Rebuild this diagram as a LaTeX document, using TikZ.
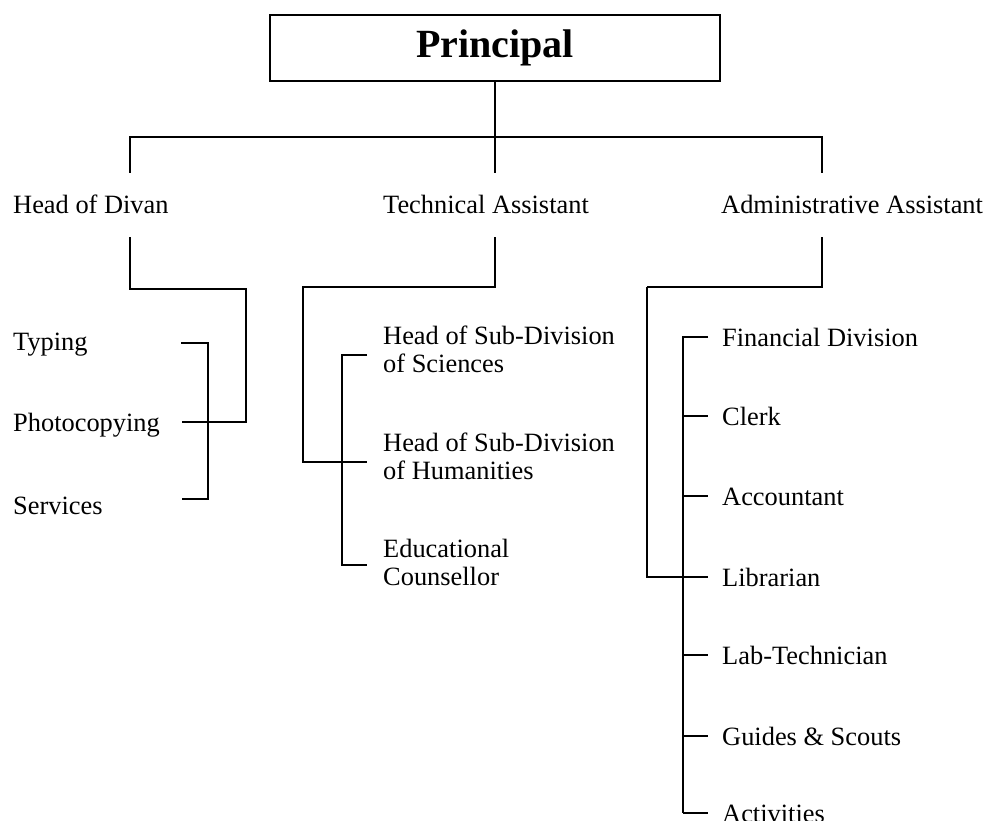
\documentclass[tikz,border=0pt]{standalone}
\usepackage{fontspec}
\setmainfont{Liberation Serif}
\usetikzlibrary{calc}
\begin{document}
\begin{tikzpicture}[x=1pt,y=-1pt,
  wire/.style={line width=1.5pt},
  heavy/.style={line width=2.7pt},
  chief/.style={draw, line width=2.2pt, minimum width=450pt, minimum height=66pt,
    inner sep=0pt, font=\fontsize{40}{44}\selectfont\bfseries},
  deputy/.style={inner xsep=0pt, inner ysep=23pt, text height=18pt, text depth=0pt,
    anchor=west, font=\fontsize{26.4}{28}\selectfont},
  leaf/.style={inner sep=0pt, text height=18pt, text depth=0pt, anchor=west,
    font=\fontsize{26.4}{28}\selectfont},
  twoline/.style={inner sep=0pt, align=left, anchor=west,
    font=\fontsize{26.4}{28}\selectfont},
]
\useasboundingbox (0,0) rectangle (986,821);

% top of the chart
\node[chief] (prin) at (495,48) {Principal};

% second level
\node[deputy] (hod) at (13,205) {Head of Divan};
\node[deputy] (ta)  at (383,205) {Technical Assistant};
\node[deputy] (aa)  at (721,205) {Administrative Assistant};

% left group
\node[leaf] (typ) at (13,341) {Typing};
\node[leaf] (pho) at (13,422) {Photocopying};
\node[leaf] (srv) at (13,505) {Services};

% middle group
\node[twoline] (sci) at (383,349) {Head of Sub-Division\\of Sciences};
\node[twoline] (hum) at (383,456) {Head of Sub-Division\\of Humanities};
\node[twoline] (edu) at (383,562) {Educational\\Counsellor};

% right group
\node[leaf] (fin) at (722,337) {Financial Division};
\node[leaf] (clk) at (722,416) {Clerk};
\node[leaf] (acc) at (722,496) {Accountant};
\node[leaf] (lib) at (722,577) {Librarian};
\node[leaf] (lab) at (722,655) {Lab-Technician};
\node[leaf] (gui) at (722,736) {Guides \& Scouts};
\node[leaf] (act) at (722,813) {Activities};

% junction points
\coordinate (barL) at (130,137);
\coordinate (barR) at (822,137);
\coordinate (hodK) at (130,289);
\coordinate (hodJ) at (246,289);
\coordinate (brk)  at (208,343);
\coordinate (typT) at (181,343);
\coordinate (phoT) at (182,422);
\coordinate (srvT) at (182,499);
\coordinate (taK)  at (495,287);
\coordinate (taL)  at (303,287);
\coordinate (mcol) at (342,355);
\coordinate (sciT) at (367,355);
\coordinate (humT) at (367,462);
\coordinate (eduT) at (367,565);
\coordinate (aaK)  at (822,287);
\coordinate (aaL)  at (647,287);
\coordinate (rcol) at (683,337);

% principal to the three assistants
\draw[wire] (prin.south) -- (prin.south |- ta.north);
\draw[wire] (barL |- hod.north) -- (barL) -- (barR) -- (barR |- aa.north);

% head of divan branch
\draw[wire] (hodK |- hod.south) -- (hodK) -- (hodJ) -- (hodJ |- phoT) -- (phoT);
\draw[wire] (typT) -- (brk) -- (brk |- srvT) -- (srvT);
\draw[heavy] (brk) -- (brk |- phoT);
\draw[heavy] (srvT) -- (brk |- srvT);

% technical assistant branch
\draw[wire] (taK |- ta.south) -- (taK) -- (taL) -- (taL |- humT) -- (humT);
\draw[wire] (sciT) -- (mcol) -- (mcol |- eduT) -- (eduT);
\draw[heavy] ([xshift=-8pt]eduT) -- (eduT);

% administrative assistant branch
\draw[heavy] (aaK |- aa.south) -- (aaK) -- (aaL);
\draw[wire] (aaL) -- (aaL |- lib) -- ([xshift=-14pt]lib.west);
\draw[heavy] ($(aaL)+(0,113)$) -- ($(aaL)+(0,195)$);
\draw[wire] ([xshift=-14pt]fin.west) -- (rcol) -- (rcol |- act);
\foreach \n in {acc,lab,gui}
  \draw[wire] (rcol |- \n) -- ([xshift=-14pt]\n.west);
\draw[heavy] (rcol |- clk) -- ([xshift=-14pt]clk.west);
\draw[heavy] (rcol |- act) -- ([xshift=-14pt]act.west);
\draw[heavy] ([yshift=12pt]rcol |- clk) -- (rcol |- acc);
\end{tikzpicture}
\end{document}
